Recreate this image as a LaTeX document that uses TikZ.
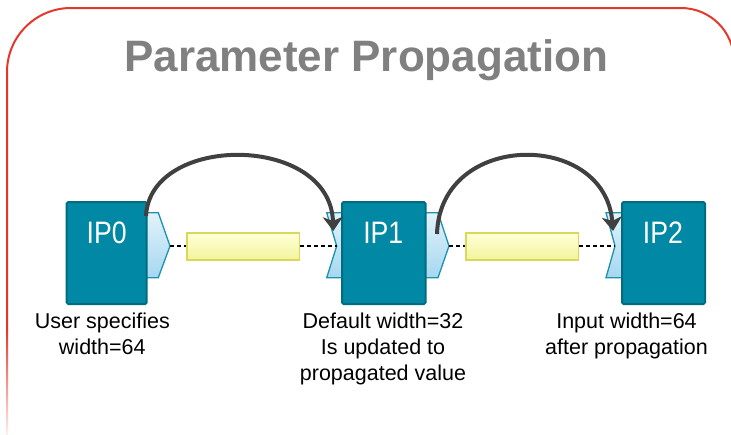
\documentclass[tikz,border=0pt]{standalone}
\usepackage{fontspec}
\setmainfont{Liberation Sans}
\usetikzlibrary{arrows.meta}
\definecolor{framec}{HTML}{E3392B}
\definecolor{ipfill}{HTML}{0088A5}
\definecolor{ipdraw}{HTML}{006C80}
\definecolor{chtop}{HTML}{E2F2FB}
\definecolor{chbot}{HTML}{A6D7F0}
\definecolor{chdraw}{HTML}{1B93AE}
\definecolor{ytop}{HTML}{FFFFD8}
\definecolor{ybot}{HTML}{F3F39C}
\definecolor{ydraw}{HTML}{D8D85A}
\definecolor{arcc}{HTML}{404040}
\definecolor{titlec}{HTML}{808080}
\begin{document}
\begin{tikzpicture}[x=1pt,y=-1pt,
  ipbox/.style={draw=ipdraw, fill=ipfill, line width=2pt, rounded corners=1.5pt, minimum height=102pt, inner sep=0pt},
  iptext/.style={text=white, font=\fontsize{31}{31}\selectfont, inner sep=0pt},
  bar/.style={draw=ydraw, line width=1.5pt, top color=ytop, bottom color=ybot, minimum width=112.5pt, minimum height=27pt, inner sep=0pt},
  chev/.style={draw=chdraw, line width=1.3pt, top color=chtop, bottom color=chbot, line join=miter},
  dashline/.style={black, line width=1.4pt, dash pattern=on 4pt off 3pt},
  hop/.style={arcc, line width=4pt, -{Stealth[length=14pt,width=20pt,inset=4pt]}},
  caption/.style={font=\fontsize{21.5}{26}\selectfont, align=center, inner sep=0pt, anchor=base},
]
\useasboundingbox (0,0) rectangle (731,434);
% frame
\begin{scope}
\clip (0,0) rectangle (731,434);
\draw[framec, line width=2pt] (7,331) -- (7,72) .. controls (7,36.65) and (35.65,8) .. (71,8)
  -- (681,8) .. controls (710.3,8) and (734,31.7) .. (734,61) -- (734,440);
\shade[top color=framec, bottom color=framec!8] (6,330) rectangle (8,434);
\end{scope}
% title
\node[font=\fontsize{44}{44}\selectfont\bfseries, text=titlec, anchor=base, inner sep=0pt] (title) at (366.3,71.7) {Parameter Propagation};
% connectors (chevrons)
\shadedraw[chev] (145,212.7) -- (158.3,212.7) -- (170,246) -- (158.3,277.7) -- (145,277.7) -- cycle;
\coordinate (o0) at (170,246);
\shadedraw[chev] (345,212.7) -- (326.7,212.7) -- (336.7,246) -- (326.7,277.7) -- (345,277.7) -- cycle;
\coordinate (i1) at (336.7,246);
\shadedraw[chev] (424,212.7) -- (438,212.7) -- (449,246) -- (438,277.7) -- (424,277.7) -- cycle;
\coordinate (o1) at (449,246);
\shadedraw[chev] (625,212.7) -- (606,212.7) -- (615,246) -- (606,277.7) -- (625,277.7) -- cycle;
\coordinate (i2) at (615,246);
% boxes
\node[ipbox, minimum width=80pt] (ip0) at (106.7,253) {};
\node[ipbox, minimum width=83.5pt] (ip1) at (383.8,253) {};
\node[ipbox, minimum width=83pt] (ip2) at (663.5,253) {};
\node[iptext] (t0) at (106.7,232.8) {\scalebox{0.86}[1]{IP0}};
\node[iptext] (t1) at (383.3,232.8) {\scalebox{0.86}[1]{IP1}};
\node[iptext] (t2) at (663,232.8) {\scalebox{0.86}[1]{IP2}};
% bars
\node[bar] (bar1) at (243,246.5) {};
\node[bar] (bar2) at (522,246.5) {};
% dashed links
\draw[dashline] (o0) -- (o0 -| bar1.west);
\draw[dashline] (i1 -| bar1.east) -- (i1);
\draw[dashline] (o1) -- (o1 -| bar2.west);
\draw[dashline] (i2 -| bar2.east) -- (i2);
% propagation arcs
\coordinate (s1) at (146,216);
\coordinate (e1) at (333.3,231);
\coordinate (s2) at (437,234);
\coordinate (e2) at (613,231);
\draw[hop] (s1) .. controls (150,133.5) and (330,133.5) .. (e1);
\draw[hop] (s2) .. controls (440,130.5) and (605,130.5) .. (e2);
% captions (anchor base = last line baseline)
\node[caption] (c0) at (102.3,354.3) {User specifies\\width=64};
\node[caption] (c1) at (383,380.3) {Default width=32\\Is updated to\\propagated value};
\node[caption] (c2) at (626.5,354.3) {Input width=64\\after propagation};
\end{tikzpicture}
\end{document}
